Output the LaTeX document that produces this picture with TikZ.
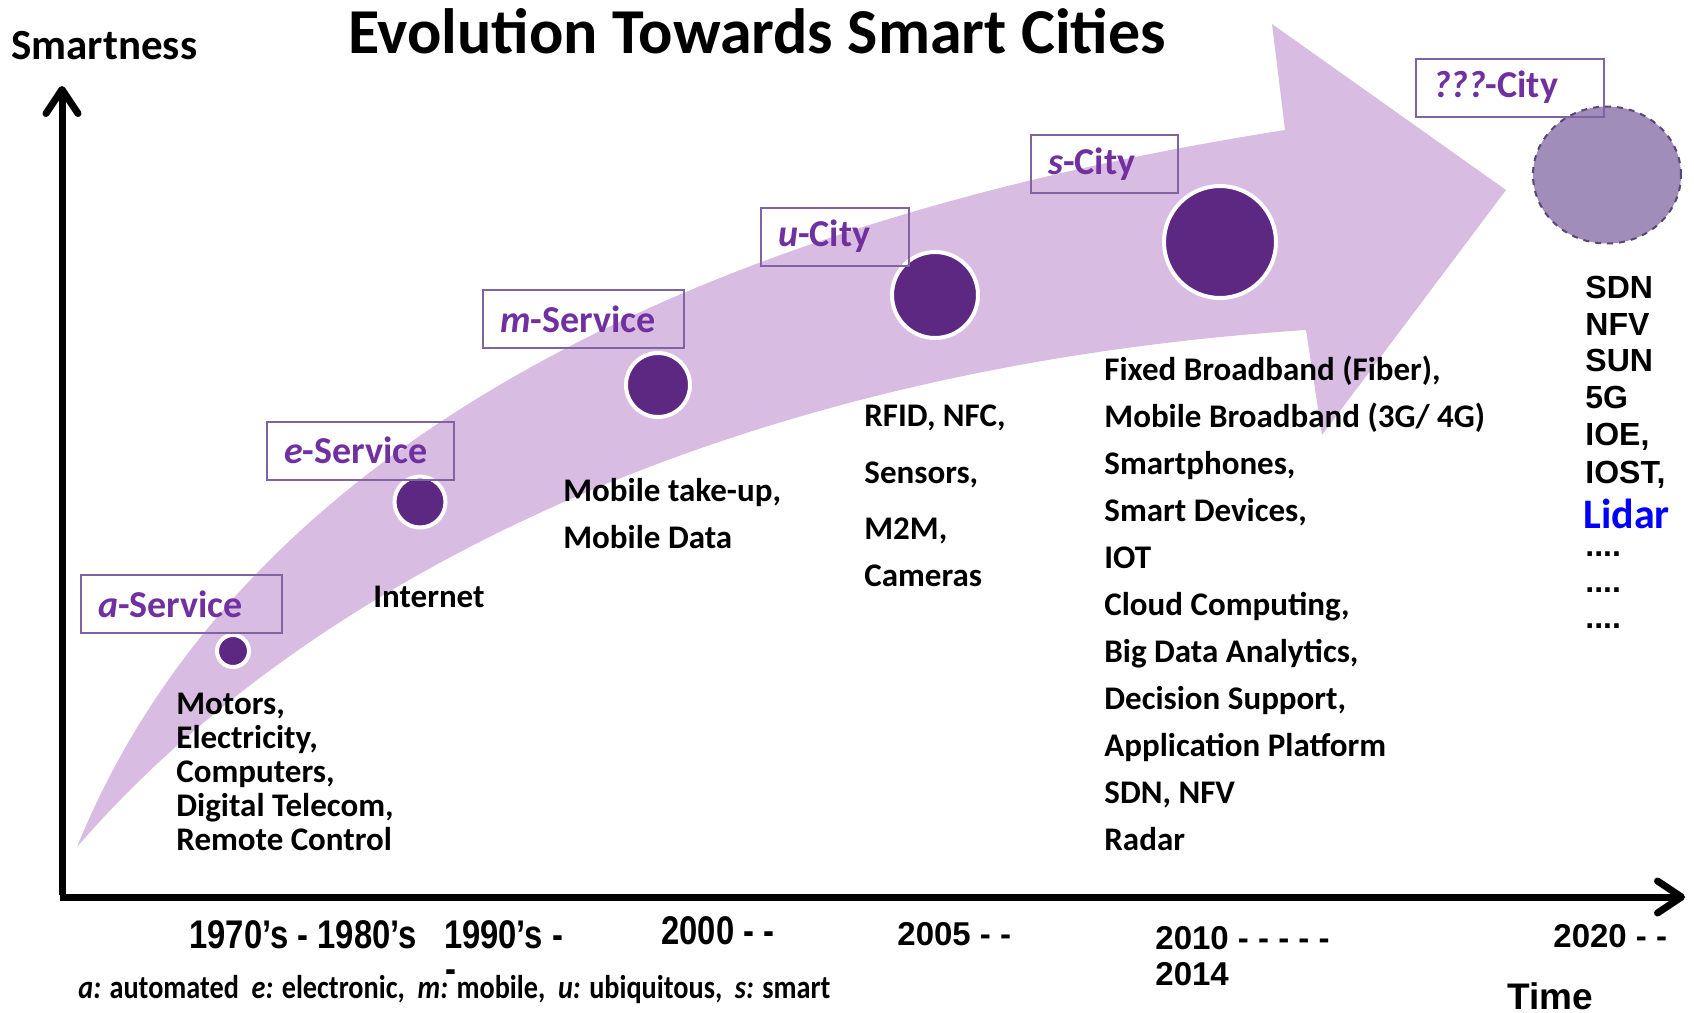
\documentclass[tikz,border=0pt]{standalone}
\usepackage{fontspec}
\setmainfont{Carlito}
\newfontfamily\arialfont{Liberation Sans}
\usepackage{graphicx}
\usetikzlibrary{arrows.meta,shapes.geometric}

\definecolor{bandlilac}{RGB}{216,188,226}
\definecolor{dotpurple}{RGB}{92,40,130}
\definecolor{boxframe}{RGB}{128,100,162}
\definecolor{boxtext}{RGB}{112,48,160}
\definecolor{futurefill}{RGB}{161,141,186}
\definecolor{futureline}{RGB}{88,70,118}

\newcommand{\narrowtext}[1]{\scalebox{0.82}[1]{#1}}

\tikzset{
  stage/.style={draw=boxframe, line width=1pt, text=boxtext, align=left,
    inner xsep=8.5pt, minimum height=29pt, font=\fontsize{19}{22}\selectfont\bfseries},
  stagedot/.style={circle, draw=white, line width=2pt, fill=dotpurple, inner sep=0pt},
  tech/.style={anchor=base west, inner sep=0pt, font=\fontsize{16.5}{20}\selectfont\bfseries},
  futuretech/.style={anchor=base west, inner sep=0pt, font=\arialfont\fontsize{16}{19}\selectfont\bfseries},
  yearlabel/.style={anchor=base west, inner sep=0pt, font=\arialfont\fontsize{16.5}{20}\selectfont\bfseries},
  timeaxis/.style={line width=3.5pt, -{Straight Barb[length=12pt,width=16pt,round]}}
}

\begin{document}
\begin{tikzpicture}[x=0.5pt, y=-0.5pt]
\useasboundingbox (0,0) rectangle (1694,1013);

% the big arrow
\fill[bandlilac] (77,847) .. controls (230,470) and (650,230) .. (1285,130)
  -- (1272,24) -- (1506,190) -- (1322,435) -- (1306,330)
  .. controls (700,370) and (290,600) .. (77,847) -- cycle;

% axes
\coordinate (origin) at (62,895);
\coordinate (ytip) at (62,86);
\coordinate (xstart) at (60,897);
\coordinate (xtip) at (1685,897);
\draw[timeaxis] (origin) -- (ytip);
\draw[timeaxis] (xstart) -- (xtip);

\node[anchor=base, inner sep=0pt, font=\fontsize{32}{36}\selectfont\bfseries] (title) at (757,53) {Evolution Towards Smart Cities};
\node[anchor=base west, inner sep=0pt, font=\fontsize{21.5}{24}\selectfont\bfseries] (smart) at (11,59) {Smartness};

% stages
\node[stagedot, minimum size=16pt] (a) at (233,651) {};
\node[stagedot, minimum size=25.5pt] (e) at (420,502) {};
\node[stagedot, minimum size=32pt] (m) at (658,385) {};
\node[stagedot, minimum size=43pt] (u) at (935,295) {};
\node[stagedot, minimum size=56pt] (s) at (1220,242) {};
\node[ellipse, draw=futureline, dashed, line width=1pt, fill=futurefill,
  minimum width=74pt, minimum height=68.5pt, inner sep=0pt] (q) at (1607,175) {};

\node[stage, text width=83.5pt] (aserv) at (181.5,604) {\textit{a}-Service};
\node[stage, text width=76.5pt] (eserv) at (360.5,450.5) {\textit{e}-Service};
\node[stage, text width=83.5pt] (mserv) at (583.5,319) {\textit{m}-Service};
\node[stage, text width=57pt] (ucity) at (835,236.5) {\textit{u}-City};
\node[stage, text width=56.5pt] (scity) at (1104.5,164) {\textit{s}-City};
\node[stage, text width=77pt] (qcity) at (1510,87.5) {\textit{???}-City};

% technologies
\node[tech] (a1) at (176,714) {Motors,};
\node[tech] (a2) at (176,748) {Electricity,};
\node[tech] (a3) at (176,782) {Computers,};
\node[tech] (a4) at (176,816) {Digital Telecom,};
\node[tech] (a5) at (176,850) {Remote Control};

\node[tech] (e1) at (373,607) {Internet};

\node[tech] (m1) at (563,501) {Mobile take-up,};
\node[tech] (m2) at (563,548) {Mobile Data};

\node[tech] (u1) at (864,426) {RFID, NFC,};
\node[tech] (u2) at (864,483) {Sensors,};
\node[tech] (u3) at (864,539) {M2M,};
\node[tech] (u4) at (864,586) {Cameras};

\node[tech] (s1) at (1104,380) {Fixed Broadband (Fiber),};
\node[tech] (s2) at (1104,427) {Mobile Broadband (3G/ 4G)};
\node[tech] (s3) at (1104,474) {Smartphones,};
\node[tech] (s4) at (1104,521) {Smart Devices,};
\node[tech] (s5) at (1104,568) {IOT};
\node[tech] (s6) at (1104,615) {Cloud Computing,};
\node[tech] (s7) at (1104,662) {Big Data Analytics,};
\node[tech] (s8) at (1104,709) {Decision Support,};
\node[tech] (s9) at (1104,756) {Application Platform};
\node[tech] (s10) at (1104,803) {SDN, NFV};
\node[tech] (s11) at (1104,850) {Radar};

\node[futuretech] (q1) at (1585,298) {SDN};
\node[futuretech] (q2) at (1585,335) {NFV};
\node[futuretech] (q3) at (1585,371) {SUN};
\node[futuretech] (q4) at (1585,408) {5G};
\node[futuretech] (q5) at (1585,445) {IOE,};
\node[futuretech] (q6) at (1585,483) {IOST,};
\node[tech, text=blue, font=\fontsize{21}{24}\selectfont\bfseries] (q7) at (1583,528) {Lidar};
\node[futuretech] (q8) at (1585,556) {....};
\node[futuretech] (q9) at (1585,592) {....};
\node[futuretech] (q10) at (1585,628) {....};

% time line
\node[yearlabel] (y1) at (189,948) {\narrowtext{\fontsize{20}{22}\selectfont 1970’s - 1980’s\ \ \ 1990’s -}};
\node[yearlabel] (wrapdash) at (445,982) {\narrowtext{\fontsize{20}{22}\selectfont -}};
\node[yearlabel] (y2) at (661,944) {\narrowtext{\fontsize{20}{22}\selectfont 2000 - -}};
\node[yearlabel] (y3) at (897,945) {2005 - -};
\node[yearlabel] (y4) at (1155,949) {2010 - - - - -};
\node[yearlabel] (y5) at (1155,985) {2014};
\node[yearlabel] (y6) at (1553,947) {2020 - -};
\node[yearlabel, font=\arialfont\fontsize{18.5}{20}\selectfont\bfseries] (time) at (1507,1009) {Time};

\node[anchor=base west, inner sep=0pt, font=\fontsize{16.5}{20}\selectfont\bfseries] (legend) at (78,998)
  {\resizebox{376pt}{\height}{\textit{a:} automated\ \ \textit{e:} electronic,\ \ \textit{m:} mobile,\ \ \textit{u:} ubiquitous,\ \ \textit{s:} smart}};
\end{tikzpicture}
\end{document}
